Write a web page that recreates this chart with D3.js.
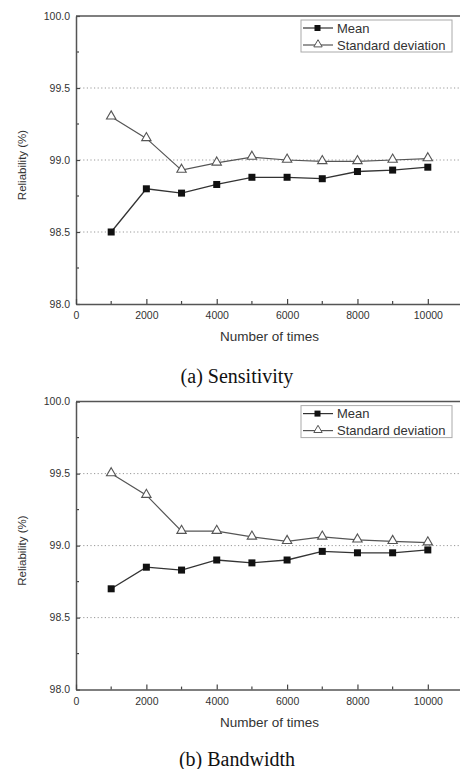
<!DOCTYPE html>
<html>
<head>
<meta charset="utf-8">
<script src="https://cdn.jsdelivr.net/npm/d3@7"></script>
<style>
  body { margin: 0; background: #fff; }
  svg { display: block; }
  text { font-family: "Liberation Sans", Arial, sans-serif; fill: #333; }
  .caption { font-family: "Liberation Serif", "Times New Roman", serif; fill: #111; }
</style>
</head>
<body>
<div id="chart"></div>
<script>
// x values (number of times)
const times = [1000, 2000, 3000, 4000, 5000, 6000, 7000, 8000, 9000, 10000];

// (a) Sensitivity
const sensMean = [98.50, 98.80, 98.77, 98.83, 98.88, 98.88, 98.87, 98.92, 98.93, 98.95];
const sensStd  = [99.30, 99.15, 98.93, 98.98, 99.02, 99.00, 98.99, 98.99, 99.00, 99.01];

// (b) Bandwidth
const bandMean = [98.70, 98.85, 98.83, 98.90, 98.88, 98.90, 98.96, 98.95, 98.95, 98.97];
const bandStd  = [99.50, 99.35, 99.10, 99.10, 99.06, 99.03, 99.06, 99.04, 99.03, 99.02];

const xTicks = [0, 2000, 4000, 6000, 8000, 10000];
const yTicks = [98.0, 98.5, 99.0, 99.5, 100.0];
const seriesNames = ["Mean", "Standard deviation"];
const captions = ["(a) Sensitivity", "(b) Bandwidth"];

const W = 460, H = 769;
const svg = d3.select("#chart").append("svg")
    .attr("width", W)
    .attr("height", H);

const margin = {top: 16, left: 76};
const plotW = 387, plotH = 288;

const x = d3.scaleLinear().domain([0, 11000]).range([0, plotW]);
const y = d3.scaleLinear().domain([98, 100]).range([plotH, 0]);

function drawPanel(offsetY, meanData, stdData, caption, captionY) {
    const g = svg.append("g")
        .attr("transform", "translate(" + margin.left + "," + (margin.top + offsetY) + ")");

    // dotted grid lines
    g.selectAll(".grid")
        .data(yTicks.filter(v => v > 98 && v < 100))
        .join("line")
        .attr("x1", 0).attr("x2", plotW)
        .attr("y1", d => y(d)).attr("y2", d => y(d))
        .attr("stroke", "#999")
        .attr("stroke-width", 1)
        .attr("stroke-dasharray", "1.2,2.4");

    // minor ticks
    g.selectAll(".yminor")
        .data([98.25, 98.75, 99.25, 99.75])
        .join("line")
        .attr("x1", 0).attr("x2", 3)
        .attr("y1", d => y(d)).attr("y2", d => y(d))
        .attr("stroke", "#444").attr("stroke-width", 1.2);
    g.selectAll(".xminor")
        .data([1000, 3000, 5000, 7000, 9000])
        .join("line")
        .attr("x1", d => x(d)).attr("x2", d => x(d))
        .attr("y1", plotH).attr("y2", plotH - 3)
        .attr("stroke", "#444").attr("stroke-width", 1.2);

    // axes
    const yAxis = d3.axisLeft(y).tickValues(yTicks).tickFormat(d3.format(".1f"))
        .tickSizeInner(-4).tickSizeOuter(0).tickPadding(6);
    const xAxis = d3.axisBottom(x).tickValues(xTicks).tickFormat(d3.format("d"))
        .tickSizeInner(-5).tickSizeOuter(0).tickPadding(8);

    const ya = g.append("g").call(yAxis);
    const xa = g.append("g").attr("transform", "translate(0," + plotH + ")").call(xAxis);
    [ya, xa].forEach(a => {
        a.select(".domain").attr("stroke", "#555").attr("stroke-width", 1.5);
        a.selectAll(".tick line").attr("stroke", "#444").attr("stroke-width", 1.2);
        a.selectAll(".tick text").attr("font-size", 10.5).attr("fill", "#333")
            .style("font-family", "'Liberation Sans', Arial, sans-serif");
    });

    // top frame line
    g.append("line")
        .attr("x1", 0).attr("x2", plotW).attr("y1", 0).attr("y2", 0)
        .attr("stroke", "#555").attr("stroke-width", 1.5);

    // axis titles
    g.append("text")
        .attr("x", x(5500))
        .attr("y", plotH + 37)
        .attr("text-anchor", "middle")
        .attr("font-size", 13.5)
        .text("Number of times");
    g.append("text")
        .attr("transform", "translate(" + (-50) + "," + (plotH / 2 + 5) + ") rotate(-90)")
        .attr("text-anchor", "middle")
        .attr("font-size", 11.5)
        .text("Reliability (%)");

    const line = d3.line().x((d, i) => x(times[i])).y(d => y(d));

    g.append("path").datum(stdData)
        .attr("d", line).attr("fill", "none")
        .attr("stroke", "#555").attr("stroke-width", 1.2);
    g.append("path").datum(meanData)
        .attr("d", line).attr("fill", "none")
        .attr("stroke", "#333").attr("stroke-width", 1.3);

    const tri = d3.symbol().type(d3.symbolTriangle).size(38);
    g.selectAll(".stdPt").data(stdData).join("path")
        .attr("d", tri)
        .attr("transform", (d, i) => "translate(" + x(times[i]) + "," + (y(d) - 0.5) + ")")
        .attr("fill", "#fff").attr("stroke", "#555").attr("stroke-width", 1.1);
    g.selectAll(".meanPt").data(meanData).join("rect")
        .attr("x", (d, i) => x(times[i]) - 3.5)
        .attr("y", d => y(d) - 3.5)
        .attr("width", 7).attr("height", 7)
        .attr("fill", "#111");

    // legend
    const lg = g.append("g").attr("transform", "translate(225,4)");
    lg.append("rect")
        .attr("width", 151).attr("height", 32)
        .attr("fill", "#fff").attr("stroke", "#aaa").attr("stroke-width", 1);
    seriesNames.forEach((name, i) => {
        const cy = 8 + i * 17;
        lg.append("line")
            .attr("x1", 2).attr("x2", 32).attr("y1", cy).attr("y2", cy)
            .attr("stroke", i === 0 ? "#333" : "#555").attr("stroke-width", 1.2);
        if (i === 0) {
            lg.append("rect").attr("x", 13.5).attr("y", cy - 3).attr("width", 6).attr("height", 6)
                .attr("fill", "#111");
        } else {
            lg.append("path").attr("d", d3.symbol().type(d3.symbolTriangle).size(30))
                .attr("transform", "translate(17," + (cy - 0.5) + ")")
                .attr("fill", "#fff").attr("stroke", "#555").attr("stroke-width", 1);
        }
        lg.append("text")
            .attr("x", 36).attr("y", cy + 4.5)
            .attr("font-size", 13)
            .text(name);
    });

    // caption
    svg.append("text")
        .attr("class", "caption")
        .attr("x", 237)
        .attr("y", captionY)
        .attr("text-anchor", "middle")
        .attr("font-size", 20)
        .text(caption);
}

drawPanel(0, sensMean, sensStd, captions[0], 383);
drawPanel(385.6, bandMean, bandStd, captions[1], 766);
</script>
</body>
</html>
